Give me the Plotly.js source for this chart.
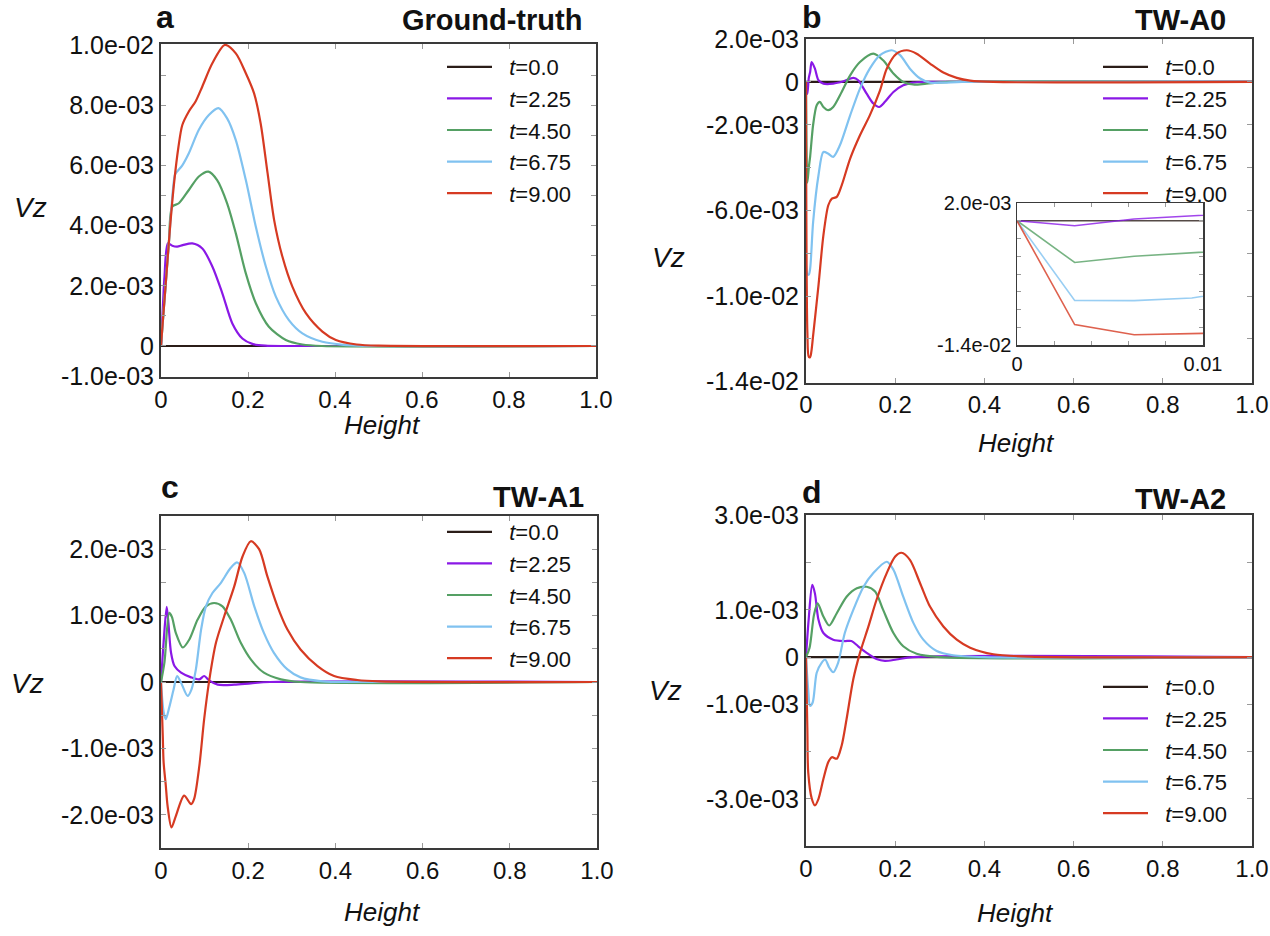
<!DOCTYPE html>
<html><head><meta charset="utf-8">
<script src="https://cdn.plot.ly/plotly-3.0.1.min.js"></script>
<style>body{margin:0;background:#fff}#chart{width:1270px;height:936px}</style>
</head><body><div id="chart"></div>
<script>
// ---------- labels ----------
const legendLabels = ['&nbsp;&nbsp;<i>t</i>=0.0', '&nbsp;&nbsp;<i>t</i>=2.25', '&nbsp;&nbsp;<i>t</i>=4.50', '&nbsp;&nbsp;<i>t</i>=6.75', '&nbsp;&nbsp;<i>t</i>=9.00'];
const seriesColors = ['#2b1d18', '#8a18e6', '#55a064', '#80c2f0', '#d63a22'];
const panelLetters = ['a', 'b', 'c', 'd'];
const panelNames = ['Ground-truth', 'TW-A0', 'TW-A1', 'TW-A2'];

// ---------- data (Vz in units of 1e-3) ----------
const zeroX = [0, 1.0];
const zeroY = [0, 0];

// a: Ground-truth
const gt225x = [0, 0.003, 0.008, 0.016, 0.026, 0.037, 0.05, 0.072, 0.095, 0.118, 0.141, 0.164, 0.187, 0.21, 0.24, 0.3, 1.0];
const gt225y = [0, 0.9, 2.3, 3.41, 3.33, 3.3, 3.35, 3.41, 3.24, 2.64, 1.75, 0.75, 0.25, 0.07, 0.01, 0, 0];
const gt450x = [0, 0.003, 0.01, 0.018, 0.026, 0.041, 0.064, 0.087, 0.109, 0.129, 0.152, 0.172, 0.195, 0.218, 0.248, 0.287, 0.325, 0.37, 1.0];
const gt450y = [0, 0.6, 1.9, 3.4, 4.63, 4.74, 5.18, 5.63, 5.79, 5.51, 4.74, 3.74, 2.41, 1.42, 0.64, 0.2, 0.05, 0, 0];
const gt675x = [0, 0.003, 0.01, 0.02, 0.032, 0.037, 0.049, 0.064, 0.087, 0.11, 0.132, 0.152, 0.172, 0.195, 0.218, 0.241, 0.264, 0.294, 0.325, 0.371, 0.42, 0.5, 1.0];
const gt675y = [0, 0.6, 1.9, 3.8, 5.68, 5.79, 6.0, 6.4, 7.18, 7.67, 7.9, 7.56, 6.84, 5.51, 3.96, 2.64, 1.64, 0.86, 0.42, 0.14, 0.04, 0, 0];
const gt900x = [0, 0.003, 0.01, 0.02, 0.03, 0.04, 0.049, 0.064, 0.0795, 0.095, 0.118, 0.147, 0.172, 0.195, 0.214, 0.229, 0.245, 0.26, 0.279, 0.302, 0.333, 0.371, 0.402, 0.45, 0.5, 1.0];
const gt900y = [0, 0.6, 1.9, 3.8, 5.4, 6.6, 7.34, 7.79, 8.12, 8.62, 9.39, 10.0, 9.72, 9.06, 8.39, 7.4, 5.74, 4.19, 2.97, 1.97, 1.09, 0.48, 0.2, 0.05, 0.01, 0];

// b: TW-A0
const a0225x = [0, 0.0031, 0.0063, 0.0094, 0.0127, 0.02, 0.028, 0.039, 0.061, 0.084, 0.106, 0.117, 0.136, 0.151, 0.164, 0.177, 0.196, 0.218, 0.24, 0.27, 1.0];
const a0225y = [0, -0.56, 0.19, 0.48, 0.93, 0.62, 0.08, -0.08, -0.08, 0.03, 0.19, 0.08, -0.55, -1.01, -1.17, -0.93, -0.47, -0.16, -0.03, 0, 0];
const a0450x = [0, 0.0031, 0.0063, 0.0094, 0.016, 0.024, 0.031, 0.039, 0.05, 0.061, 0.08, 0.099, 0.121, 0.151, 0.173, 0.196, 0.218, 0.24, 0.27, 0.32, 1.0];
const a0450y = [0, -4.7, -4.0, -3.46, -2.0, -1.09, -0.93, -1.17, -1.32, -1.17, -0.47, 0.31, 0.93, 1.32, 1.01, 0.39, 0, -0.12, -0.08, 0, 0];
const a0675x = [0, 0.0031, 0.0063, 0.0094, 0.016, 0.028, 0.039, 0.05, 0.061, 0.076, 0.099, 0.121, 0.143, 0.166, 0.192, 0.211, 0.233, 0.256, 0.278, 0.31, 0.35, 1.0];
const a0675y = [0, -8.98, -9.0, -8.7, -6.54, -4.36, -3.27, -3.35, -3.5, -2.96, -1.56, -0.31, 0.62, 1.25, 1.48, 1.25, 0.62, 0.16, -0.03, -0.03, 0, 0];
const a0900x = [0, 0.0031, 0.0063, 0.0094, 0.012, 0.016, 0.028, 0.039, 0.05, 0.058, 0.069, 0.08, 0.099, 0.121, 0.143, 0.166, 0.181, 0.203, 0.226, 0.248, 0.278, 0.308, 0.338, 0.368, 0.42, 1.0];
const a0900y = [0, -11.7, -12.85, -12.85, -12.6, -11.84, -9.5, -7.17, -5.76, -5.45, -5.37, -4.83, -3.58, -2.49, -1.56, -0.39, 0.62, 1.32, 1.48, 1.32, 0.86, 0.44, 0.19, 0.06, 0, 0];

// c: TW-A1
const a1225x = [0, 0.006, 0.013, 0.017, 0.023, 0.031, 0.046, 0.069, 0.088, 0.099, 0.111, 0.13, 0.168, 0.206, 0.25, 1.0];
const a1225y = [0, 0.6, 1.13, 0.89, 0.44, 0.24, 0.14, 0.07, 0.04, 0.09, 0.02, -0.04, -0.04, -0.02, 0, 0];
const a1450x = [0, 0.008, 0.019, 0.025, 0.034, 0.05, 0.065, 0.084, 0.103, 0.122, 0.141, 0.16, 0.183, 0.206, 0.236, 0.275, 0.32, 1.0];
const a1450y = [0, 0.3, 1.04, 0.98, 0.74, 0.52, 0.64, 0.94, 1.14, 1.19, 1.14, 0.94, 0.59, 0.34, 0.14, 0.04, 0, 0];
const a1675x = [0, 0.006, 0.011, 0.019, 0.029, 0.037, 0.046, 0.061, 0.07, 0.08, 0.092, 0.103, 0.118, 0.137, 0.16, 0.175, 0.191, 0.214, 0.236, 0.259, 0.29, 0.32, 0.37, 0.45, 1.0];
const a1675y = [0, -0.45, -0.56, -0.38, -0.11, 0.09, -0.01, -0.21, -0.11, 0.19, 0.79, 1.14, 1.34, 1.49, 1.72, 1.8, 1.64, 1.14, 0.74, 0.44, 0.19, 0.07, 0.01, 0, 0];
const a1900x = [0, 0.004, 0.006, 0.011, 0.015, 0.024, 0.034, 0.053, 0.069, 0.076, 0.088, 0.099, 0.111, 0.126, 0.145, 0.168, 0.187, 0.206, 0.225, 0.244, 0.267, 0.29, 0.32, 0.359, 0.397, 0.45, 0.5, 1.0];
const a1900y = [0, -0.8, -1.21, -1.56, -1.86, -2.19, -2.02, -1.71, -1.84, -1.76, -1.26, -0.56, 0.04, 0.59, 0.99, 1.44, 1.89, 2.12, 2.0, 1.59, 1.14, 0.79, 0.49, 0.24, 0.09, 0.03, 0.01, 0];

// d: TW-A2
const a2225x = [0, 0.006, 0.014, 0.02, 0.028, 0.039, 0.061, 0.087, 0.102, 0.117, 0.136, 0.158, 0.177, 0.203, 0.24, 1.0];
const a2225y = [0, 0.8, 1.53, 1.35, 0.79, 0.51, 0.37, 0.34, 0.34, 0.23, 0.09, -0.04, -0.08, -0.05, 0, 0];
const a2450x = [0, 0.008, 0.018, 0.026, 0.039, 0.052, 0.069, 0.091, 0.114, 0.136, 0.155, 0.173, 0.196, 0.218, 0.248, 0.3, 1.0];
const a2450y = [0, 0.2, 0.9, 1.14, 0.86, 0.67, 0.93, 1.28, 1.46, 1.49, 1.39, 1.0, 0.51, 0.23, 0.07, 0, 0];
const a2675x = [0, 0.005, 0.009, 0.015, 0.024, 0.035, 0.043, 0.052, 0.061, 0.072, 0.087, 0.106, 0.129, 0.151, 0.181, 0.196, 0.218, 0.241, 0.263, 0.293, 0.33, 0.4, 1.0];
const a2675y = [0, -0.7, -1.03, -0.96, -0.33, -0.12, -0.05, -0.22, -0.32, -0.12, 0.51, 1.0, 1.49, 1.78, 2.02, 1.85, 1.28, 0.72, 0.37, 0.13, 0.04, 0, 0];
const a2900x = [0, 0.003, 0.005, 0.013, 0.02, 0.028, 0.039, 0.05, 0.058, 0.069, 0.08, 0.091, 0.106, 0.121, 0.14, 0.158, 0.181, 0.2, 0.214, 0.233, 0.256, 0.278, 0.308, 0.338, 0.368, 0.42, 0.5, 1.0];
const a2900y = [0, -1.5, -2.44, -3.0, -3.14, -3.0, -2.58, -2.22, -2.12, -2.15, -1.87, -1.31, -0.47, 0.09, 0.65, 1.21, 1.78, 2.13, 2.21, 2.06, 1.56, 1.07, 0.65, 0.37, 0.2, 0.06, 0.01, 0];

// ---------- tick labels ----------
const xTickVals = [0, 0.2, 0.4, 0.6, 0.8, 1.0];
const xTickText = ['0', '0.2', '0.4', '0.6', '0.8', '1.0'];
const aTickVals = [-1, 0, 1, 2, 3, 4, 5, 6, 7, 8, 9, 10];
const aTickText = ['-1.0e-03', '0', '', '2.0e-03', '', '4.0e-03', '', '6.0e-03', '', '8.0e-03', '', '1.0e-02'];
const bTickVals = [-14, -12, -10, -8, -6, -4, -2, 0, 2];
const bTickText = ['-1.4e-02', '', '-1.0e-02', '', '-6.0e-03', '', '-2.0e-03', '0', '2.0e-03'];
const cTickVals = [-2, -1.5, -1, -0.5, 0, 0.5, 1, 1.5, 2];
const cTickText = ['-2.0e-03', '', '-1.0e-03', '', '0', '', '1.0e-03', '', '2.0e-03'];
const dTickVals = [-4, -3, -2, -1, 0, 1, 2, 3];
const dTickText = ['', '-3.0e-03', '', '-1.0e-03', '0', '1.0e-03', '', '3.0e-03'];
const insetXTickVals = [0, 0.002, 0.004, 0.006, 0.008, 0.01];
const insetXTickText = ['0', '', '', '', '', '0.01'];
const insetYTickVals = [-14, -12, -10, -8, -6, -4, -2, 0, 2];
const insetYTickText = ['-1.4e-02', '', '', '', '', '', '', '', '2.0e-03'];

// ---------- build ----------
const W = 1270, H = 936;
const px = v => v / W;
const py = v => 1 - v / H;
const FONT = 'Arial, "Liberation Sans", Helvetica, sans-serif';

const panels = [
  {xs: [zeroX, gt225x, gt450x, gt675x, gt900x], ys: [zeroY, gt225y, gt450y, gt675y, gt900y]},
  {xs: [zeroX, a0225x, a0450x, a0675x, a0900x], ys: [zeroY, a0225y, a0450y, a0675y, a0900y]},
  {xs: [zeroX, a1225x, a1450x, a1675x, a1900x], ys: [zeroY, a1225y, a1450y, a1675y, a1900y]},
  {xs: [zeroX, a2225x, a2450x, a2675x, a2900x], ys: [zeroY, a2225y, a2450y, a2675y, a2900y]}
];

const traces = [];
panels.forEach((p, i) => {
  const ax = i === 0 ? '' : String(i + 1);
  p.xs.forEach((xv, k) => {
    traces.push({
      type: 'scatter', mode: 'lines', x: xv, y: p.ys[k],
      xaxis: 'x' + ax, yaxis: 'y' + ax,
      name: legendLabels[k], legend: 'legend' + ax,
      line: {color: seriesColors[k], width: 2.2, shape: k === 0 ? 'linear' : 'spline', smoothing: 0.8},
      hoverinfo: 'skip'
    });
  });
});
// inset of panel b
panels[1].xs.forEach((xv, k) => {
  traces.push({
    type: 'scatter', mode: 'lines', x: xv, y: panels[1].ys[k],
    xaxis: 'x5', yaxis: 'y5', showlegend: false,
    line: {color: seriesColors[k], width: 1.6}, opacity: 0.8, hoverinfo: 'skip'
  });
});

function axisCommon() {
  return {
    showline: true, linecolor: '#3a3a3a', linewidth: 2, mirror: 'allticks',
    ticks: 'inside', ticklen: 5, tickcolor: '#9a9a9a', tickwidth: 1,
    showgrid: false, zeroline: false, fixedrange: true,
    tickfont: {family: FONT, size: 25, color: '#111'}
  };
}
function xAxis(l, r, anchor) {
  return Object.assign(axisCommon(), {domain: [px(l), px(r)], range: [0, 1], anchor: anchor,
    tickmode: 'array', tickvals: xTickVals, ticktext: xTickText,
    tickfont: {family: FONT, size: 24, color: '#111'}});
}
function yAxis(t, b, range, vals, text, anchor) {
  return Object.assign(axisCommon(), {domain: [py(b), py(t)], range: range, anchor: anchor,
    tickmode: 'array', tickvals: vals, ticktext: text});
}

function legendAt(lx, ty) {
  return {x: px(lx), y: py(ty), xanchor: 'left', yanchor: 'top', bgcolor: 'rgba(0,0,0,0)',
    font: {family: FONT, size: 22, color: '#111'}, itemwidth: 45, tracegroupgap: 0};
}

const layout = {
  width: W, height: H, autosize: false,
  margin: {l: 0, r: 0, t: 0, b: 0},
  paper_bgcolor: '#fff', plot_bgcolor: '#fff',
  showlegend: true,
  xaxis: xAxis(161, 596, 'y'),
  yaxis: yAxis(44, 377, [-1.03, 10.03], aTickVals, aTickText, 'x'),
  xaxis2: xAxis(806, 1252, 'y2'),
  yaxis2: yAxis(38.7, 382.5, [-14.04, 2.02], bTickVals, bTickText, 'x2'),
  xaxis3: xAxis(161, 597, 'y3'),
  yaxis3: yAxis(516, 848, [-2.5, 2.5], cTickVals, cTickText, 'x3'),
  xaxis4: xAxis(806, 1252, 'y4'),
  yaxis4: yAxis(515, 846, [-4.0, 3.01], dTickVals, dTickText, 'x4'),
  xaxis5: Object.assign(axisCommon(), {domain: [px(1017), px(1203)], range: [0, 0.01], anchor: 'y5',
    tickmode: 'array', tickvals: insetXTickVals, ticktext: insetXTickText, linewidth: 1.5, ticklen: 4,
    tickfont: {family: FONT, size: 20, color: '#111'}}),
  yaxis5: Object.assign(axisCommon(), {domain: [py(345), py(203)], range: [-14, 2], anchor: 'x5',
    tickmode: 'array', tickvals: insetYTickVals, ticktext: insetYTickText, linewidth: 1.5, ticklen: 4,
    tickfont: {family: FONT, size: 20, color: '#111'}}),
  legend: legendAt(442, 46),
  legend2: legendAt(1098, 46),
  legend3: legendAt(442, 511),
  legend4: legendAt(1098, 666),
  annotations: []
};

const vzPos = [[30, 207], [668, 257], [27, 683], [665, 690]];
const heightPos = [[383, 425], [1017, 443], [382, 912], [1015, 913]];
const letterPos = [[165, 17], [812, 17], [170, 487], [812, 492]];
const namePos = [[584, 20], [1228, 20], [586, 497], [1228, 499]];
for (let i = 0; i < 4; i++) {
  layout.annotations.push({xref: 'paper', yref: 'paper', x: px(vzPos[i][0]), y: py(vzPos[i][1]),
    text: '<i>Vz</i>', showarrow: false, xanchor: 'center', yanchor: 'middle',
    font: {family: FONT, size: 28, color: '#111'}});
  layout.annotations.push({xref: 'paper', yref: 'paper', x: px(heightPos[i][0]), y: py(heightPos[i][1]),
    text: '<i>Height</i>', showarrow: false, xanchor: 'center', yanchor: 'middle',
    font: {family: FONT, size: 26, color: '#111'}});
  layout.annotations.push({xref: 'paper', yref: 'paper', x: px(letterPos[i][0]), y: py(letterPos[i][1]),
    text: '<b>' + panelLetters[i] + '</b>', showarrow: false, xanchor: 'center', yanchor: 'middle',
    font: {family: FONT, size: 32, color: '#111'}});
  layout.annotations.push({xref: 'paper', yref: 'paper', x: px(namePos[i][0]), y: py(namePos[i][1]),
    text: '<b>' + panelNames[i] + '</b>', showarrow: false, xanchor: 'right', yanchor: 'middle',
    font: {family: FONT, size: 29, color: '#111'}});
}

Plotly.newPlot('chart', traces, layout, {displayModeBar: false, staticPlot: true});
</script>
</body></html>
